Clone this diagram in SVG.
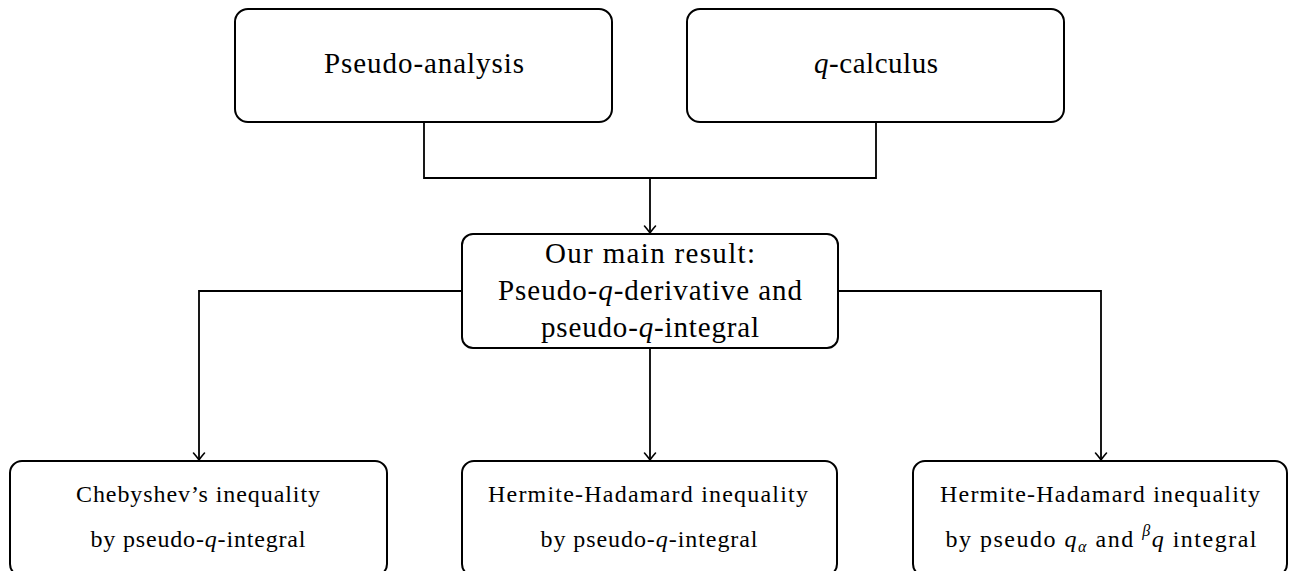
<svg xmlns="http://www.w3.org/2000/svg" width="1289" height="571" viewBox="0 0 1289 571">
<style>
.box{fill:#fff;stroke:#000;stroke-width:2}
.con{fill:none;stroke:#000;stroke-width:1.8}
text{font-family:'Liberation Serif',serif;fill:#000;text-anchor:middle}
.big{font-size:29px}
.sm{font-size:24px}
.i{font-style:italic}
.sub{font-size:16px;font-style:italic}
</style>
<defs>
<marker id="arr" markerUnits="userSpaceOnUse" markerWidth="16" markerHeight="16" refX="0" refY="0" viewBox="-10 -8 12 16" orient="auto" overflow="visible">
<path d="M-7,-5.5 Q-2,-1.2 0,0 Q-2,1.2 -7,5.5" fill="none" stroke="#000" stroke-width="1.6" stroke-linecap="round"/>
</marker>
</defs>
<g id="connectors">
<path class="con" d="M424,122 V178 H876 V122"/>
<path class="con" d="M650,178 V233" marker-end="url(#arr)"/>
<path class="con" d="M462,291 H199 V460" marker-end="url(#arr)"/>
<path class="con" d="M838,291 H1101 V460" marker-end="url(#arr)"/>
<path class="con" d="M650,348 V460" marker-end="url(#arr)"/>
</g>
<g id="pseudo-analysis">
<rect class="box" x="235" y="9" width="377" height="113" rx="13"/>
<text class="big" x="424" y="73" textLength="200">Pseudo-analysis</text>
</g>
<g id="q-calculus">
<rect class="box" x="687" y="9" width="377" height="113" rx="13"/>
<text class="big" x="876" y="73" textLength="124"><tspan class="i">q</tspan>-calculus</text>
</g>
<g id="main-result">
<rect class="box" x="462" y="234" width="376" height="114" rx="11"/>
<text class="big" x="650" y="263" textLength="210">Our main result:</text>
<text class="big" x="650" y="300" textLength="304">Pseudo-<tspan class="i">q</tspan>-derivative and</text>
<text class="big" x="650" y="337" textLength="218">pseudo-<tspan class="i">q</tspan>-integral</text>
</g>
<g id="chebyshev">
<rect class="box" x="10" y="461" width="377" height="115" rx="12"/>
<text class="sm" x="198" y="502" textLength="244">Chebyshev’s inequality</text>
<text class="sm" x="198" y="547" textLength="215">by pseudo-<tspan class="i">q</tspan>-integral</text>
</g>
<g id="hermite-hadamard-1">
<rect class="box" x="462" y="461" width="375" height="115" rx="12"/>
<text class="sm" x="648" y="502" textLength="320">Hermite-Hadamard inequality</text>
<text class="sm" x="649" y="547" textLength="217">by pseudo-<tspan class="i">q</tspan>-integral</text>
</g>
<g id="hermite-hadamard-2">
<rect class="box" x="913" y="461" width="374" height="115" rx="12"/>
<text class="sm" x="1100" y="502" textLength="320">Hermite-Hadamard inequality</text>
<text class="sm" x="1101" y="547" textLength="311">by pseudo <tspan class="i">q</tspan><tspan class="sub" dy="5">α</tspan><tspan dy="-5"> and </tspan><tspan class="sub" dy="-11">β</tspan><tspan class="i" dy="11">q</tspan> integral</text>
</g>
</svg>
